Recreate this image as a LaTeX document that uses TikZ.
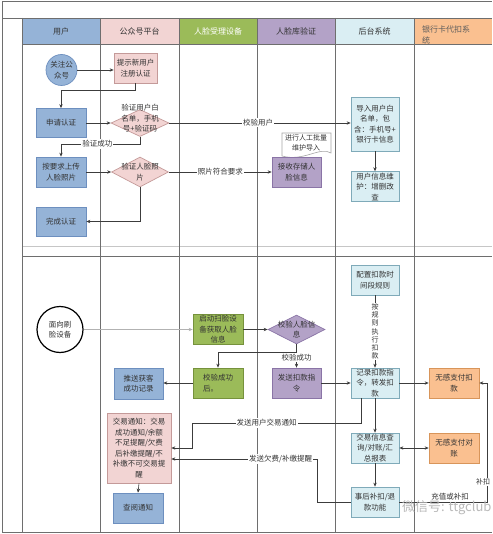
\documentclass[tikz,border=0pt]{standalone}
\usepackage{fontspec}
\setmainfont{Noto Sans CJK SC}
\usetikzlibrary{arrows.meta,shapes.geometric}
\definecolor{hblue}{HTML}{95B3D7}
\definecolor{bblue}{HTML}{6D8FBF}
\definecolor{hpink}{HTML}{F2D4D3}
\definecolor{bpink}{HTML}{C49A99}
\definecolor{hgreen}{HTML}{9BBB59}
\definecolor{bgreen}{HTML}{76923C}
\definecolor{hpurp}{HTML}{B3A2C7}
\definecolor{bpurp}{HTML}{8A74A6}
\definecolor{hlblue}{HTML}{DAEEF3}
\definecolor{blblue}{HTML}{7FAAB9}
\definecolor{horange}{HTML}{FAC090}
\definecolor{borange}{HTML}{D8955A}
\definecolor{laneline}{HTML}{6E6E6E}
\definecolor{txt}{HTML}{333333}
\definecolor{lncol}{HTML}{3C3C3C}
\tikzset{
  cell/.style={font=\fontsize{8}{11}\selectfont, text=txt},
  base/.style={draw, line width=0.7pt, inner sep=1pt, align=center, font=\fontsize{7.5}{10.5}\selectfont, text=txt},
  sz/.style 2 args={minimum width=#1pt, minimum height=#2pt},
  ubox/.style={base, fill=hblue, draw=bblue},
  pbox/.style={base, fill=hpink, draw=bpink},
  gbox/.style={base, fill=hgreen, draw=bgreen},
  vbox/.style={base, fill=hpurp, draw=bpurp},
  lbox/.style={base, fill=hlblue, draw=blblue},
  obox/.style={base, fill=horange, draw=borange},
  diam/.style={diamond, draw, line width=0.7pt, inner sep=0pt},
  dtext/.style={align=center, font=\fontsize{7.5}{10.5}\selectfont, text=txt, inner sep=0pt},
  conn/.style={draw=lncol, line width=0.6pt, -{Stealth[length=4pt,width=3.4pt]}},
  connlight/.style={conn, draw=gray!60},
  conn2/.style={draw=lncol, line width=0.6pt, {Stealth[length=4pt,width=3.4pt]}-{Stealth[length=4pt,width=3.4pt]}},
  lbl/.style={fill=white, inner sep=1pt, font=\fontsize{7.5}{9}\selectfont, text=txt},
  lane/.style={draw=laneline, line width=0.8pt},
}
\begin{document}
\begin{tikzpicture}[x=1pt,y=-1pt]
\useasboundingbox (0,0) rectangle (492,534);
\fill[white] (0,0) rectangle (492,534);
% header cells
\fill[hblue] (22,18) rectangle (100,44);
\fill[hpink] (100,18) rectangle (179,44);
\fill[hgreen] (179,18) rectangle (257,44);
\fill[hpurp] (257,18) rectangle (335,44);
\fill[hlblue] (335,18) rectangle (414,44);
\fill[horange] (414,18) rectangle (492,44);
\node[cell] (h1) at (61,31) {用户};
\node[cell] (h2) at (139.5,31) {公众号平台};
\node[cell, text=white] (h3) at (218,31) {人脸受理设备};
\node[cell] (h4) at (296,31) {人脸库验证};
\node[cell] (h5) at (374.5,31) {后台系统};
\node[cell, text=txt!80, anchor=north west, align=left, inner sep=0pt] (h6) at (422,26) {银行卡代扣系\\统};
% grid
\draw[lane] (2,1) -- (492,1);
\draw[lane] (2,18) -- (492,18);
\draw[lane] (22,44) -- (492,44);
\draw[draw=gray!45, line width=0.6pt] (22,246) -- (492,246);
\draw[lane] (22,256) -- (492,256);
\draw[lane] (2,532) -- (492,532);
\draw[lane] (2,1) -- (2,532);
\foreach \xx in {22,100,179,257,335,414} {\draw[lane] (\xx,18) -- (\xx,532);}

% ---------- section 1 ----------
\node[circle, draw=bblue, fill=hblue, line width=0.7pt, minimum size=31pt, inner sep=0pt, align=center, font=\fontsize{7.5}{10.5}\selectfont, text=txt] (guanzhu) at (61.5,70) {关注公\\众号};
\node[pbox, sz={43}{30}] (tishi) at (135.5,68) {提示新用户\\注册认证};
\node[ubox, sz={50}{29}] (apply) at (61,123) {申请认证};
\node[diam, fill=hpink, draw=bpink, minimum width=58pt, minimum height=27pt] (d1) at (140,123) {};
\node[dtext] (d1t) at (140,118.5) {验证用户白\\名单，手机\\号+验证码};
\node[ubox, sz={50}{30}] (upload) at (61,172) {按要求上传\\人脸照片};
\node[diam, fill=hpink, draw=bpink, minimum width=57pt, minimum height=30pt] (d2) at (140,172) {};
\node[dtext] (d2t) at (140,172) {验证人脸照\\片};
\node[ubox, sz={50}{29}] (done) at (61,221.5) {完成认证};
% document shape
\draw[draw=gray!70, fill=white, line width=0.6pt] (282,133) -- (331,133) -- (331,153) .. controls (320,146) and (304,162) .. (282,156) -- cycle;
\node[dtext, font=\fontsize{7}{10}\selectfont] (doc) at (306,143) {进行人工批量\\维护导入};
\node[vbox, sz={49}{30}] (recv) at (296.5,172) {接收存储人\\脸信息};
\node[lbox, sz={48}{54}] (import) at (375,124) {导入用户白\\名单，包\\含：手机号+\\银行卡信息};
\node[lbox, sz={48}{29}] (maint) at (375,186.5) {用户信息维\\护：增删改\\查};

\coordinate (k1) at (0,90);
\coordinate (k2) at (61,144);
\draw[conn] (guanzhu.east) -- (guanzhu.east -| tishi.west);
\draw[conn] (tishi.south) -- (tishi.south |- k1) -| (apply.north);
\draw[conn] (apply.east) -- (d1.west);
\draw[conn] (d1.east) -- node[lbl, pos=0.49]{校验用户} (d1.east -| import.west);
\draw[conn] (d1.south) |- node[lbl, pos=0.77]{验证成功} (k2) -- (upload.north);
\draw[conn] (upload.east) -- (d2.west);
\draw[conn] (d2.east) -- node[lbl]{照片符合要求} (recv.west);
\draw[conn] (d2.south) |- (done.east);
\draw[conn] (import.south) -- (maint.north);

% ---------- section 2 ----------
\node[circle, draw=black, fill=white, line width=1.2pt, minimum size=46pt, inner sep=0pt, align=center, font=\fontsize{7.5}{10.5}\selectfont, text=txt] (face) at (60,329.5) {面向刷\\脸设备};
\node[gbox, sz={50}{29}] (start) at (218,329.5) {启动扫脸设\\备获取人脸\\信息};
\node[diam, fill=hpurp, draw=bpurp, minimum width=57pt, minimum height=29pt] (d3) at (296.5,329.5) {};
\node[dtext] (d3t) at (296.5,329.5) {校验人脸信\\息};
\node[gbox, sz={50}{30}, align=left] (succ) at (218,383) {校验成功\\后。};
\node[ubox, sz={49}{31}] (push) at (138.5,383.5) {推送获客\\成功记录};
\node[vbox, sz={49}{30}] (send) at (296.5,383) {发送扣款指\\令};
\node[lbox, sz={48}{30}] (config) at (375,280) {配置扣款时\\间段规则};
\node[lbox, sz={48}{30}] (record) at (375,383) {记录扣款指\\令，转发扣\\款};
\node[obox, sz={50}{30}] (pay) at (454,383) {无感支付扣\\款};
\node[pbox, sz={64}{70}] (notice) at (139,448) {交易通知：交易\\成功通知/余额\\不足提醒/欠费\\后补缴提醒/不\\补缴不可交易提\\醒};
\node[ubox, sz={50}{30}] (read) at (138,508) {查阅通知};
\node[lbox, sz={48}{30}] (query) at (375,448) {交易信息查\\询/对账/汇\\总报表};
\node[obox, sz={50}{30}] (recon) at (454,448) {无感支付对\\账};
\node[lbox, sz={48}{30}] (refund) at (375,502) {事后补扣/退\\款功能};

\coordinate (k3) at (218,352);
\coordinate (k4) at (192,423);
\coordinate (k5) at (317,459);
\coordinate (k6) at (487,502);
\draw[connlight] (face.east) -- (start.west);
\draw[conn] (start.east) -- (d3.west);
\draw[conn] (d3.south) -- node[lbl, pos=0.55]{校验成功} (send.north);
\draw[conn] (d3.south) |- (k3) -- (succ.north);
\draw[conn] (succ.west) -- (succ.west -| push.east);
\draw[conn] (send.east) -- (record.west);
\draw[conn] (config.south) -- node[lbl, align=center, font=\fontsize{7}{8.2}\selectfont]{按\\规\\则\\执\\行\\扣\\款} (record.north);
\draw[conn] (record.east) -- (pay.west);
\draw[conn] (record.south) -- (query.north);
\draw[conn2] (query.east) -- (recon.west);
\draw[conn] (query.south) -- (refund.north);
\draw[conn] ([xshift=11pt]record.south west) |- node[lbl, pos=0.78]{发送用户交易通知} (k4) |- (notice.east);
\draw[conn] (refund.west) -| (k5) -- node[lbl, pos=0.25]{发送欠费/补缴提醒} (k5 -| notice.east);
\draw[conn] (refund.east) -- node[lbl, above=1pt, pos=0.58, fill=none]{充值或补扣} (k6) |- (pay.east);
\node[lbl, font=\fontsize{7}{8}\selectfont] (bukou) at (483,482) {补扣};
\draw[conn] (notice.south) -- (read.north);
% watermark
\node[anchor=west, text=gray!55, font=\fontsize{13}{13}\selectfont, inner sep=0pt] (wm) at (402,508) {微信号: ttgclub};
\end{tikzpicture}
\end{document}
